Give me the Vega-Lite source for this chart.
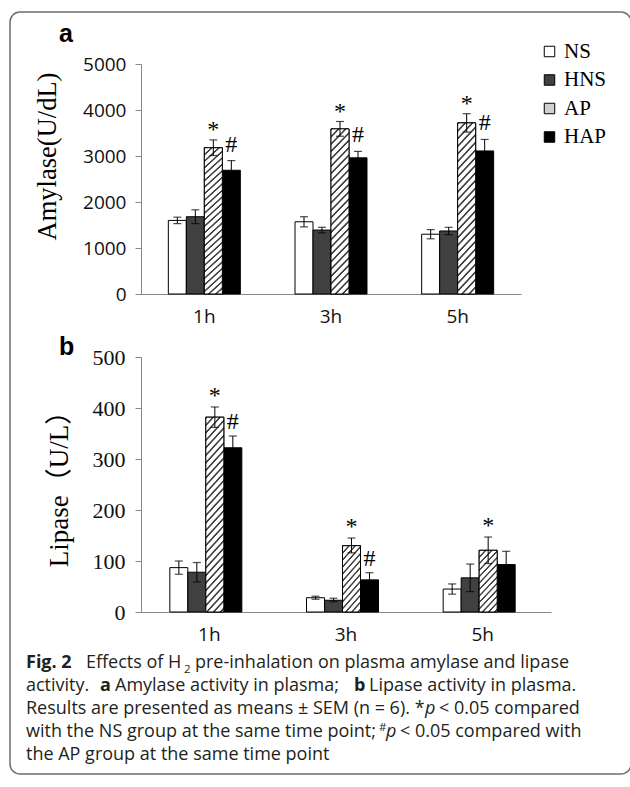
{
  "$schema": "https://vega.github.io/schema/vega-lite/v6.json",
  "background": "white",
  "padding": {"left": 9, "top": 11, "right": 0, "bottom": 0},
  "autosize": {"type": "pad"},
  "bounds": "flush",
  "spacing": 63,
  "config": {"view": {"stroke": null}, "axis": {"grid": false}, "font": "Liberation Sans"},
  "resolve": {"scale": {"color": "independent", "x": "independent", "y": "independent"}, "legend": {"color": "independent"}},
  "datasets": {
    "amylase": [
      {"time": "1h", "group": "NS", "mean": 1600, "lo": 1530, "hi": 1670},
      {"time": "1h", "group": "HNS", "mean": 1680, "lo": 1530, "hi": 1830},
      {"time": "1h", "group": "AP", "mean": 3180, "lo": 3010, "hi": 3350, "sig": "*"},
      {"time": "1h", "group": "HAP", "mean": 2690, "lo": 2480, "hi": 2900, "sig": "#"},
      {"time": "3h", "group": "NS", "mean": 1570, "lo": 1460, "hi": 1680},
      {"time": "3h", "group": "HNS", "mean": 1390, "lo": 1330, "hi": 1450},
      {"time": "3h", "group": "AP", "mean": 3590, "lo": 3430, "hi": 3750, "sig": "*"},
      {"time": "3h", "group": "HAP", "mean": 2960, "lo": 2820, "hi": 3100, "sig": "#"},
      {"time": "5h", "group": "NS", "mean": 1300, "lo": 1200, "hi": 1400},
      {"time": "5h", "group": "HNS", "mean": 1370, "lo": 1290, "hi": 1450},
      {"time": "5h", "group": "AP", "mean": 3720, "lo": 3520, "hi": 3920, "sig": "*"},
      {"time": "5h", "group": "HAP", "mean": 3110, "lo": 2860, "hi": 3360, "sig": "#"}
    ],
    "lipase": [
      {"time": "1h", "group": "NS", "mean": 87, "lo": 74, "hi": 100},
      {"time": "1h", "group": "HNS", "mean": 78, "lo": 59, "hi": 97},
      {"time": "1h", "group": "AP", "mean": 382, "lo": 362, "hi": 402, "sig": "*"},
      {"time": "1h", "group": "HAP", "mean": 322, "lo": 300, "hi": 345, "sig": "#"},
      {"time": "3h", "group": "NS", "mean": 28, "lo": 25, "hi": 31},
      {"time": "3h", "group": "HNS", "mean": 23, "lo": 20, "hi": 27},
      {"time": "3h", "group": "AP", "mean": 130, "lo": 116, "hi": 145, "sig": "*"},
      {"time": "3h", "group": "HAP", "mean": 63, "lo": 49, "hi": 77, "sig": "#"},
      {"time": "5h", "group": "NS", "mean": 45, "lo": 35, "hi": 55},
      {"time": "5h", "group": "HNS", "mean": 67, "lo": 40, "hi": 94},
      {"time": "5h", "group": "AP", "mean": 121, "lo": 95, "hi": 147, "sig": "*"},
      {"time": "5h", "group": "HAP", "mean": 93, "lo": 67, "hi": 119}
    ],
    "frame": [{"x1": 10, "x2": 631, "y1": 12, "y2": 774}],
    "panelLabels": [
      {"x": 59, "y": 42, "text": "a"},
      {"x": 59, "y": 355, "text": "b"}
    ],
    "capPlain": [
      {"x": 86, "y": 668, "text": "Effects of H"},
      {"x": 195, "y": 668, "text": "pre-inhalation on plasma amylase and lipase"},
      {"x": 26, "y": 691, "text": "activity."},
      {"x": 115, "y": 691, "text": "Amylase activity in plasma;"},
      {"x": 369, "y": 691, "text": "Lipase activity in plasma."},
      {"x": 26, "y": 714, "text": "Results are presented as means ± SEM (n = 6). *"},
      {"x": 439, "y": 714, "text": "< 0.05 compared"},
      {"x": 26, "y": 737, "text": "with the NS group at the same time point;"},
      {"x": 400, "y": 737, "text": "< 0.05 compared with"},
      {"x": 26, "y": 760, "text": "the AP group at the same time point"}
    ],
    "capBold": [
      {"x": 26, "y": 668, "text": "Fig. 2"},
      {"x": 100, "y": 691, "text": "a"},
      {"x": 354, "y": 691, "text": "b"}
    ],
    "capItalic": [
      {"x": 425, "y": 714, "text": "p"},
      {"x": 386, "y": 737, "text": "p"}
    ],
    "capSmall": [
      {"x": 184, "y": 673, "text": "2"},
      {"x": 379, "y": 731, "text": "#"}
    ]
  },
  "vconcat": [
    {
      "width": 380,
      "height": 230,
      "data": {"name": "amylase"},
      "encoding": {
        "x": {"field": "time", "type": "nominal", "sort": ["1h", "3h", "5h"], "scale": {"paddingInner": 0.4316, "paddingOuter": 0.2158},
          "axis": {"title": null, "labelAngle": 0, "ticks": false, "labelFont": "Open Sans", "labelFontSize": 19, "labelColor": "#111", "labelPadding": 13, "domainColor": "#888"}},
        "xOffset": {"field": "group", "type": "nominal", "sort": ["NS", "HNS", "AP", "HAP"], "scale": {"paddingInner": 0, "paddingOuter": 0}}
      },
      "layer": [
        {
          "mark": {"type": "bar", "stroke": "#000", "strokeWidth": 1},
          "encoding": {
            "y": {"field": "mean", "type": "quantitative", "scale": {"domain": [0, 5000], "nice": false},
              "axis": {"title": "Amylase(U/dL)", "titleFont": "Liberation Serif", "titleFontSize": 26.5, "titleFontWeight": "normal", "titleColor": "#000", "titleX": -94, "titleY": 92, "titleAlign": "center", "titleBaseline": "middle",
                "values": [0, 1000, 2000, 3000, 4000, 5000], "format": "d", "labelFont": "Open Sans", "labelFontSize": 19, "labelColor": "#111", "labelPadding": 9, "tickSize": 6, "tickColor": "#888", "domainColor": "#888"}},
            "color": {"field": "group", "type": "nominal", "sort": ["NS", "HNS", "AP", "HAP"],
              "scale": {"domain": ["NS", "HNS", "AP", "HAP"], "range": ["#ffffff", "#404040", "#d0d0d0", "#000000"]},
              "legend": {"orient": "none", "legendX": 398, "legendY": -23, "title": null, "symbolType": "square", "symbolSize": 110, "symbolStrokeColor": "#000", "symbolStrokeWidth": 1, "labelFont": "Liberation Serif", "labelFontSize": 21, "labelColor": "#000", "rowPadding": 6.5, "labelOffset": 4, "padding": 0}}
          }
        },
        {
          "transform": [{"filter": "datum.group === 'AP'"}],
          "mark": {"type": "bar", "stroke": "#000", "strokeWidth": 1,
            "fill": {"gradient": "linear", "x1": 0, "y1": 0, "x2": 0.1236, "y2": 1.0986, "stops": [
              {"offset": 0, "color": "#404040"}, {"offset": 0.007, "color": "#404040"}, {"offset": 0.012, "color": "#ffffff"}, {"offset": 0.034, "color": "#ffffff"},
              {"offset": 0.04, "color": "#404040"}, {"offset": 0.047, "color": "#404040"}, {"offset": 0.052, "color": "#ffffff"}, {"offset": 0.074, "color": "#ffffff"},
              {"offset": 0.08, "color": "#404040"}, {"offset": 0.087, "color": "#404040"}, {"offset": 0.092, "color": "#ffffff"}, {"offset": 0.114, "color": "#ffffff"},
              {"offset": 0.12, "color": "#404040"}, {"offset": 0.127, "color": "#404040"}, {"offset": 0.132, "color": "#ffffff"}, {"offset": 0.154, "color": "#ffffff"},
              {"offset": 0.16, "color": "#404040"}, {"offset": 0.167, "color": "#404040"}, {"offset": 0.172, "color": "#ffffff"}, {"offset": 0.194, "color": "#ffffff"},
              {"offset": 0.2, "color": "#404040"}, {"offset": 0.207, "color": "#404040"}, {"offset": 0.212, "color": "#ffffff"}, {"offset": 0.234, "color": "#ffffff"},
              {"offset": 0.24, "color": "#404040"}, {"offset": 0.247, "color": "#404040"}, {"offset": 0.252, "color": "#ffffff"}, {"offset": 0.274, "color": "#ffffff"},
              {"offset": 0.28, "color": "#404040"}, {"offset": 0.287, "color": "#404040"}, {"offset": 0.292, "color": "#ffffff"}, {"offset": 0.314, "color": "#ffffff"},
              {"offset": 0.32, "color": "#404040"}, {"offset": 0.327, "color": "#404040"}, {"offset": 0.332, "color": "#ffffff"}, {"offset": 0.354, "color": "#ffffff"},
              {"offset": 0.36, "color": "#404040"}, {"offset": 0.367, "color": "#404040"}, {"offset": 0.372, "color": "#ffffff"}, {"offset": 0.394, "color": "#ffffff"},
              {"offset": 0.4, "color": "#404040"}, {"offset": 0.407, "color": "#404040"}, {"offset": 0.412, "color": "#ffffff"}, {"offset": 0.434, "color": "#ffffff"},
              {"offset": 0.44, "color": "#404040"}, {"offset": 0.447, "color": "#404040"}, {"offset": 0.452, "color": "#ffffff"}, {"offset": 0.474, "color": "#ffffff"},
              {"offset": 0.48, "color": "#404040"}, {"offset": 0.487, "color": "#404040"}, {"offset": 0.492, "color": "#ffffff"}, {"offset": 0.514, "color": "#ffffff"},
              {"offset": 0.52, "color": "#404040"}, {"offset": 0.527, "color": "#404040"}, {"offset": 0.532, "color": "#ffffff"}, {"offset": 0.554, "color": "#ffffff"},
              {"offset": 0.56, "color": "#404040"}, {"offset": 0.567, "color": "#404040"}, {"offset": 0.572, "color": "#ffffff"}, {"offset": 0.594, "color": "#ffffff"},
              {"offset": 0.6, "color": "#404040"}, {"offset": 0.607, "color": "#404040"}, {"offset": 0.612, "color": "#ffffff"}, {"offset": 0.634, "color": "#ffffff"},
              {"offset": 0.64, "color": "#404040"}, {"offset": 0.647, "color": "#404040"}, {"offset": 0.652, "color": "#ffffff"}, {"offset": 0.674, "color": "#ffffff"},
              {"offset": 0.68, "color": "#404040"}, {"offset": 0.687, "color": "#404040"}, {"offset": 0.692, "color": "#ffffff"}, {"offset": 0.714, "color": "#ffffff"},
              {"offset": 0.72, "color": "#404040"}, {"offset": 0.727, "color": "#404040"}, {"offset": 0.732, "color": "#ffffff"}, {"offset": 0.754, "color": "#ffffff"},
              {"offset": 0.76, "color": "#404040"}, {"offset": 0.767, "color": "#404040"}, {"offset": 0.772, "color": "#ffffff"}, {"offset": 0.794, "color": "#ffffff"},
              {"offset": 0.8, "color": "#404040"}, {"offset": 0.807, "color": "#404040"}, {"offset": 0.812, "color": "#ffffff"}, {"offset": 0.834, "color": "#ffffff"},
              {"offset": 0.84, "color": "#404040"}, {"offset": 0.847, "color": "#404040"}, {"offset": 0.852, "color": "#ffffff"}, {"offset": 0.874, "color": "#ffffff"},
              {"offset": 0.88, "color": "#404040"}, {"offset": 0.887, "color": "#404040"}, {"offset": 0.892, "color": "#ffffff"}, {"offset": 0.914, "color": "#ffffff"},
              {"offset": 0.92, "color": "#404040"}, {"offset": 0.927, "color": "#404040"}, {"offset": 0.932, "color": "#ffffff"}, {"offset": 0.954, "color": "#ffffff"},
              {"offset": 0.96, "color": "#404040"}, {"offset": 0.967, "color": "#404040"}, {"offset": 0.972, "color": "#ffffff"}, {"offset": 0.994, "color": "#ffffff"},
              {"offset": 1, "color": "#404040"}
            ]}},
          "encoding": {"y": {"field": "mean", "type": "quantitative"}}
        },
        {"mark": {"type": "rule", "color": "#000", "strokeWidth": 1}, "encoding": {"y": {"field": "lo", "type": "quantitative"}, "y2": {"field": "hi"}}},
        {"mark": {"type": "tick", "color": "#000", "thickness": 1.2, "size": 8}, "encoding": {"y": {"field": "lo", "type": "quantitative"}}},
        {"mark": {"type": "tick", "color": "#000", "thickness": 1.2, "size": 8}, "encoding": {"y": {"field": "hi", "type": "quantitative"}}},
        {"transform": [{"filter": "datum.sig === '*'"}], "mark": {"type": "text", "font": "Liberation Serif", "fontSize": 24, "baseline": "alphabetic", "dy": -3, "color": "#000"},
          "encoding": {"y": {"field": "hi", "type": "quantitative"}, "text": {"field": "sig"}}},
        {"transform": [{"filter": "datum.sig === '#'"}], "mark": {"type": "text", "font": "Liberation Serif", "fontSize": 24, "baseline": "alphabetic", "dy": -9, "color": "#000"},
          "encoding": {"y": {"field": "hi", "type": "quantitative"}, "text": {"field": "sig"}}}
      ]
    },
    {
      "width": 410,
      "height": 255,
      "data": {"name": "lipase"},
      "encoding": {
        "x": {"field": "time", "type": "nominal", "sort": ["1h", "3h", "5h"], "scale": {"paddingInner": 0.422, "paddingOuter": 0.211},
          "axis": {"title": null, "labelAngle": 0, "ticks": false, "labelFont": "Open Sans", "labelFontSize": 19, "labelColor": "#111", "labelPadding": 13, "domainColor": "#888"}},
        "xOffset": {"field": "group", "type": "nominal", "sort": ["NS", "HNS", "AP", "HAP"], "scale": {"paddingInner": 0, "paddingOuter": 0}}
      },
      "layer": [
        {
          "mark": {"type": "bar", "stroke": "#000", "strokeWidth": 1},
          "encoding": {
            "y": {"field": "mean", "type": "quantitative", "scale": {"domain": [0, 500], "nice": false},
              "axis": {"title": "Lipase（U/L）", "titleFont": "Liberation Serif, Noto Sans CJK SC", "titleFontSize": 27, "titleFontWeight": "normal", "titleColor": "#000", "titleX": -82, "titleY": 125, "titleAlign": "center", "titleBaseline": "middle",
                "values": [0, 100, 200, 300, 400, 500], "format": "d", "labelFont": "Liberation Serif", "labelFontSize": 22, "labelColor": "#111", "labelPadding": 10, "tickSize": 6, "tickColor": "#888", "domainColor": "#888"}},
            "color": {"field": "group", "type": "nominal", "sort": ["NS", "HNS", "AP", "HAP"],
              "scale": {"domain": ["NS", "HNS", "AP", "HAP"], "range": ["#ffffff", "#404040", "#d0d0d0", "#000000"]},
              "legend": null}
          }
        },
        {
          "transform": [{"filter": "datum.group === 'AP' && datum.time === '1h'"}],
          "mark": {"type": "bar", "stroke": "#000", "strokeWidth": 1,
            "fill": {"gradient": "linear", "x1": 0, "y1": 0, "x2": 0.1104, "y2": 1.0901, "stops": [
              {"offset": 0, "color": "#404040"}, {"offset": 0.006, "color": "#404040"}, {"offset": 0.0105, "color": "#ffffff"}, {"offset": 0.0295, "color": "#ffffff"},
              {"offset": 0.035, "color": "#404040"}, {"offset": 0.041, "color": "#404040"}, {"offset": 0.0455, "color": "#ffffff"}, {"offset": 0.0645, "color": "#ffffff"},
              {"offset": 0.07, "color": "#404040"}, {"offset": 0.076, "color": "#404040"}, {"offset": 0.0805, "color": "#ffffff"}, {"offset": 0.0995, "color": "#ffffff"},
              {"offset": 0.105, "color": "#404040"}, {"offset": 0.111, "color": "#404040"}, {"offset": 0.1155, "color": "#ffffff"}, {"offset": 0.1345, "color": "#ffffff"},
              {"offset": 0.14, "color": "#404040"}, {"offset": 0.146, "color": "#404040"}, {"offset": 0.1505, "color": "#ffffff"}, {"offset": 0.1695, "color": "#ffffff"},
              {"offset": 0.175, "color": "#404040"}, {"offset": 0.181, "color": "#404040"}, {"offset": 0.1855, "color": "#ffffff"}, {"offset": 0.2045, "color": "#ffffff"},
              {"offset": 0.21, "color": "#404040"}, {"offset": 0.216, "color": "#404040"}, {"offset": 0.2205, "color": "#ffffff"}, {"offset": 0.2395, "color": "#ffffff"},
              {"offset": 0.245, "color": "#404040"}, {"offset": 0.251, "color": "#404040"}, {"offset": 0.2555, "color": "#ffffff"}, {"offset": 0.2745, "color": "#ffffff"},
              {"offset": 0.28, "color": "#404040"}, {"offset": 0.286, "color": "#404040"}, {"offset": 0.2905, "color": "#ffffff"}, {"offset": 0.3095, "color": "#ffffff"},
              {"offset": 0.315, "color": "#404040"}, {"offset": 0.321, "color": "#404040"}, {"offset": 0.3255, "color": "#ffffff"}, {"offset": 0.3445, "color": "#ffffff"},
              {"offset": 0.35, "color": "#404040"}, {"offset": 0.356, "color": "#404040"}, {"offset": 0.3605, "color": "#ffffff"}, {"offset": 0.3795, "color": "#ffffff"},
              {"offset": 0.385, "color": "#404040"}, {"offset": 0.391, "color": "#404040"}, {"offset": 0.3955, "color": "#ffffff"}, {"offset": 0.4145, "color": "#ffffff"},
              {"offset": 0.42, "color": "#404040"}, {"offset": 0.426, "color": "#404040"}, {"offset": 0.4305, "color": "#ffffff"}, {"offset": 0.4495, "color": "#ffffff"},
              {"offset": 0.455, "color": "#404040"}, {"offset": 0.461, "color": "#404040"}, {"offset": 0.4655, "color": "#ffffff"}, {"offset": 0.4845, "color": "#ffffff"},
              {"offset": 0.49, "color": "#404040"}, {"offset": 0.496, "color": "#404040"}, {"offset": 0.5005, "color": "#ffffff"}, {"offset": 0.5195, "color": "#ffffff"},
              {"offset": 0.525, "color": "#404040"}, {"offset": 0.531, "color": "#404040"}, {"offset": 0.5355, "color": "#ffffff"}, {"offset": 0.5545, "color": "#ffffff"},
              {"offset": 0.56, "color": "#404040"}, {"offset": 0.566, "color": "#404040"}, {"offset": 0.5705, "color": "#ffffff"}, {"offset": 0.5895, "color": "#ffffff"},
              {"offset": 0.595, "color": "#404040"}, {"offset": 0.601, "color": "#404040"}, {"offset": 0.6055, "color": "#ffffff"}, {"offset": 0.6245, "color": "#ffffff"},
              {"offset": 0.63, "color": "#404040"}, {"offset": 0.636, "color": "#404040"}, {"offset": 0.6405, "color": "#ffffff"}, {"offset": 0.6595, "color": "#ffffff"},
              {"offset": 0.665, "color": "#404040"}, {"offset": 0.671, "color": "#404040"}, {"offset": 0.6755, "color": "#ffffff"}, {"offset": 0.6945, "color": "#ffffff"},
              {"offset": 0.7, "color": "#404040"}, {"offset": 0.706, "color": "#404040"}, {"offset": 0.7105, "color": "#ffffff"}, {"offset": 0.7295, "color": "#ffffff"},
              {"offset": 0.735, "color": "#404040"}, {"offset": 0.741, "color": "#404040"}, {"offset": 0.7455, "color": "#ffffff"}, {"offset": 0.7645, "color": "#ffffff"},
              {"offset": 0.77, "color": "#404040"}, {"offset": 0.776, "color": "#404040"}, {"offset": 0.7805, "color": "#ffffff"}, {"offset": 0.7995, "color": "#ffffff"},
              {"offset": 0.805, "color": "#404040"}, {"offset": 0.811, "color": "#404040"}, {"offset": 0.8155, "color": "#ffffff"}, {"offset": 0.8345, "color": "#ffffff"},
              {"offset": 0.84, "color": "#404040"}, {"offset": 0.846, "color": "#404040"}, {"offset": 0.8505, "color": "#ffffff"}, {"offset": 0.8695, "color": "#ffffff"},
              {"offset": 0.875, "color": "#404040"}, {"offset": 0.881, "color": "#404040"}, {"offset": 0.8855, "color": "#ffffff"}, {"offset": 0.9045, "color": "#ffffff"},
              {"offset": 0.91, "color": "#404040"}, {"offset": 0.916, "color": "#404040"}, {"offset": 0.9205, "color": "#ffffff"}, {"offset": 0.9395, "color": "#ffffff"},
              {"offset": 0.945, "color": "#404040"}, {"offset": 0.951, "color": "#404040"}, {"offset": 0.9555, "color": "#ffffff"}, {"offset": 0.9745, "color": "#ffffff"},
              {"offset": 0.98, "color": "#404040"}, {"offset": 0.986, "color": "#404040"}, {"offset": 0.9905, "color": "#ffffff"}, {"offset": 1, "color": "#ffffff"}
            ]}},
          "encoding": {"y": {"field": "mean", "type": "quantitative"}}
        },
        {
          "transform": [{"filter": "datum.group === 'AP' && datum.time !== '1h'"}],
          "mark": {"type": "bar", "stroke": "#000", "strokeWidth": 1,
            "fill": {"gradient": "linear", "x1": 0, "y1": 0, "x2": 0.3687, "y2": 1.1949, "stops": [
              {"offset": 0, "color": "#404040"}, {"offset": 0.014, "color": "#404040"}, {"offset": 0.024, "color": "#ffffff"}, {"offset": 0.068, "color": "#ffffff"},
              {"offset": 0.08, "color": "#404040"}, {"offset": 0.094, "color": "#404040"}, {"offset": 0.104, "color": "#ffffff"}, {"offset": 0.148, "color": "#ffffff"},
              {"offset": 0.16, "color": "#404040"}, {"offset": 0.174, "color": "#404040"}, {"offset": 0.184, "color": "#ffffff"}, {"offset": 0.228, "color": "#ffffff"},
              {"offset": 0.24, "color": "#404040"}, {"offset": 0.254, "color": "#404040"}, {"offset": 0.264, "color": "#ffffff"}, {"offset": 0.308, "color": "#ffffff"},
              {"offset": 0.32, "color": "#404040"}, {"offset": 0.334, "color": "#404040"}, {"offset": 0.344, "color": "#ffffff"}, {"offset": 0.388, "color": "#ffffff"},
              {"offset": 0.4, "color": "#404040"}, {"offset": 0.414, "color": "#404040"}, {"offset": 0.424, "color": "#ffffff"}, {"offset": 0.468, "color": "#ffffff"},
              {"offset": 0.48, "color": "#404040"}, {"offset": 0.494, "color": "#404040"}, {"offset": 0.504, "color": "#ffffff"}, {"offset": 0.548, "color": "#ffffff"},
              {"offset": 0.56, "color": "#404040"}, {"offset": 0.574, "color": "#404040"}, {"offset": 0.584, "color": "#ffffff"}, {"offset": 0.628, "color": "#ffffff"},
              {"offset": 0.64, "color": "#404040"}, {"offset": 0.654, "color": "#404040"}, {"offset": 0.664, "color": "#ffffff"}, {"offset": 0.708, "color": "#ffffff"},
              {"offset": 0.72, "color": "#404040"}, {"offset": 0.734, "color": "#404040"}, {"offset": 0.744, "color": "#ffffff"}, {"offset": 0.788, "color": "#ffffff"},
              {"offset": 0.8, "color": "#404040"}, {"offset": 0.814, "color": "#404040"}, {"offset": 0.824, "color": "#ffffff"}, {"offset": 0.868, "color": "#ffffff"},
              {"offset": 0.88, "color": "#404040"}, {"offset": 0.894, "color": "#404040"}, {"offset": 0.904, "color": "#ffffff"}, {"offset": 0.948, "color": "#ffffff"},
              {"offset": 0.96, "color": "#404040"}, {"offset": 0.974, "color": "#404040"}, {"offset": 0.984, "color": "#ffffff"}, {"offset": 1, "color": "#ffffff"}
            ]}},
          "encoding": {"y": {"field": "mean", "type": "quantitative"}}
        },
        {"mark": {"type": "rule", "color": "#000", "strokeWidth": 1}, "encoding": {"y": {"field": "lo", "type": "quantitative"}, "y2": {"field": "hi"}}},
        {"mark": {"type": "tick", "color": "#000", "thickness": 1.2, "size": 8}, "encoding": {"y": {"field": "lo", "type": "quantitative"}}},
        {"mark": {"type": "tick", "color": "#000", "thickness": 1.2, "size": 8}, "encoding": {"y": {"field": "hi", "type": "quantitative"}}},
        {"transform": [{"filter": "datum.sig === '*'"}], "mark": {"type": "text", "font": "Liberation Serif", "fontSize": 24, "baseline": "alphabetic", "dy": -4, "color": "#000"},
          "encoding": {"y": {"field": "hi", "type": "quantitative"}, "text": {"field": "sig"}}},
        {"transform": [{"filter": "datum.sig === '#'"}], "mark": {"type": "text", "font": "Liberation Serif", "fontSize": 24, "baseline": "alphabetic", "dy": -7, "color": "#000"},
          "encoding": {"y": {"field": "hi", "type": "quantitative"}, "text": {"field": "sig"}}}
      ]
    },
    {
      "width": 480,
      "height": 100,
      "encoding": {
        "x": {"field": "x", "type": "quantitative", "scale": {"domain": [141, 621], "nice": false, "zero": false}, "axis": null},
        "y": {"field": "y", "type": "quantitative", "scale": {"domain": [675, 775], "reverse": true, "nice": false, "zero": false}, "axis": null}
      },
      "layer": [
        {
          "data": {"name": "frame"},
          "mark": {"type": "rect", "filled": false, "stroke": "#6e6e6e", "strokeWidth": 1.5, "cornerRadius": 10},
          "encoding": {
            "x": {"field": "x1", "type": "quantitative"},
            "x2": {"field": "x2"},
            "y": {"field": "y1", "type": "quantitative"},
            "y2": {"field": "y2"}
          }
        },
        {"data": {"name": "panelLabels"}, "mark": {"type": "text", "align": "left", "baseline": "alphabetic", "font": "Liberation Sans", "fontSize": 25, "fontWeight": "bold", "color": "#000"}, "encoding": {"text": {"field": "text"}}},
        {"data": {"name": "capPlain"}, "mark": {"type": "text", "align": "left", "baseline": "alphabetic", "font": "Open Sans", "fontSize": 18, "color": "#231f20"}, "encoding": {"text": {"field": "text"}}},
        {"data": {"name": "capBold"}, "mark": {"type": "text", "align": "left", "baseline": "alphabetic", "font": "Open Sans", "fontSize": 18, "fontWeight": "bold", "color": "#231f20"}, "encoding": {"text": {"field": "text"}}},
        {"data": {"name": "capItalic"}, "mark": {"type": "text", "align": "left", "baseline": "alphabetic", "font": "Open Sans", "fontSize": 18, "fontStyle": "italic", "color": "#231f20"}, "encoding": {"text": {"field": "text"}}},
        {"data": {"name": "capSmall"}, "mark": {"type": "text", "align": "left", "baseline": "alphabetic", "font": "Open Sans", "fontSize": 11.5, "color": "#231f20"}, "encoding": {"text": {"field": "text"}}}
      ]
    }
  ]
}
